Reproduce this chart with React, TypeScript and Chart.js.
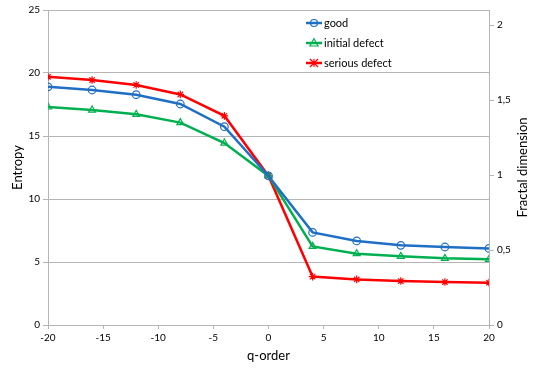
import React, { useEffect, useRef } from "react";
import { Chart, registerables } from "chart.js";

Chart.register(...registerables);

const qOrder = [-20, -16, -12, -8, -4, 0, 4, 8, 12, 16, 20];
const good = [18.9, 18.65, 18.28, 17.54, 15.74, 11.83, 7.35, 6.67, 6.32, 6.19, 6.08];
const initialDefect = [17.3, 17.06, 16.72, 16.06, 14.44, 11.83, 6.24, 5.66, 5.45, 5.29, 5.21];
const seriousDefect = [19.7, 19.44, 19.05, 18.3, 16.6, 11.83, 3.84, 3.62, 3.49, 3.41, 3.36];
const seriesNames = ["good", "initial defect", "serious defect"];
const seriesColors = ["#1f6fc5", "#00b050", "#ff0000"];
const seriesMarkers = ["circle", "triangle", "star"];
const xTitle = "q-order";
const yTitle = "Entropy";
const y2Title = "Fractal dimension";

const FONT = "Lato, 'Noto Sans', sans-serif";
const GRID = "#b5b5b5";

const W = 534;
const H = 368;

function toPoints(vals: number[]) {
  return qOrder.map((q, i) => ({ x: q, y: vals[i] }));
}

const overlayPlugin = {
  id: "overlay",
  afterDraw(chart: any) {
    const ctx = chart.ctx as CanvasRenderingContext2D;
    const area = chart.chartArea;
    ctx.save();
    ctx.fillStyle = "#000";
    ctx.textAlign = "center";
    ctx.textBaseline = "middle";
    // axis titles
    ctx.font = `13px ${FONT}`;
    ctx.fillText(xTitle, (area.left + area.right) / 2, 356);
    ctx.save();
    ctx.translate(18, (area.top + area.bottom) / 2);
    ctx.rotate(-Math.PI / 2);
    ctx.fillText(yTitle, 0, 0);
    ctx.restore();
    ctx.save();
    ctx.translate(523, (area.top + area.bottom) / 2);
    ctx.rotate(-Math.PI / 2);
    ctx.fillText(y2Title, 0, 0);
    ctx.restore();

    // legend
    ctx.font = `11px ${FONT}`;
    ctx.textAlign = "left";
    const ys = [23, 43, 63];
    seriesNames.forEach((name, i) => {
      const y = ys[i];
      const color = seriesColors[i];
      ctx.strokeStyle = color;
      ctx.lineWidth = 2.5;
      ctx.beginPath();
      ctx.moveTo(306, y);
      ctx.lineTo(322, y);
      ctx.stroke();
      ctx.lineWidth = 1.2;
      ctx.fillStyle = "rgba(0,0,0,0)";
      (Chart as any).helpers
        ? null
        : null;
      drawMarker(ctx, seriesMarkers[i], 314, y, 3.5, color);
      ctx.fillStyle = "#000";
      ctx.fillText(name, 324, y + 0.5);
    });
    ctx.restore();
  },
};

function drawMarker(ctx: CanvasRenderingContext2D, style: string, x: number, y: number, r: number, color: string) {
  ctx.save();
  ctx.strokeStyle = color;
  ctx.lineWidth = 1.2;
  ctx.beginPath();
  if (style === "circle") {
    ctx.arc(x, y, r, 0, Math.PI * 2);
  } else if (style === "triangle") {
    const rr = r + 0.8;
    ctx.moveTo(x, y - rr);
    ctx.lineTo(x + rr * 0.95, y + rr * 0.7);
    ctx.lineTo(x - rr * 0.95, y + rr * 0.7);
    ctx.closePath();
  } else {
    const rr = r + 0.5;
    ctx.moveTo(x - rr, y - rr);
    ctx.lineTo(x + rr, y + rr);
    ctx.moveTo(x - rr, y + rr);
    ctx.lineTo(x + rr, y - rr);
    ctx.moveTo(x, y - rr);
    ctx.lineTo(x, y + rr);
  }
  ctx.stroke();
  ctx.restore();
}

export default function App() {
  const ref = useRef<HTMLCanvasElement | null>(null);

  useEffect(() => {
    if (!ref.current) return;
    const datasets = [good, initialDefect, seriousDefect].map((vals, i) => ({
      label: seriesNames[i],
      data: toPoints(vals),
      borderColor: seriesColors[i],
      backgroundColor: "rgba(0,0,0,0)",
      borderWidth: 2.5,
      pointStyle: seriesMarkers[i] as any,
      pointRadius: i === 1 ? 4 : 3.8,
      pointBorderWidth: 1.2,
      pointBorderColor: seriesColors[i],
      pointBackgroundColor: "rgba(0,0,0,0)",
      tension: 0,
      yAxisID: "y",
    }));
    const chart = new Chart(ref.current, {
      type: "line",
      data: { datasets },
      options: {
        animation: false,
        responsive: false,
        devicePixelRatio: 1,
        layout: { padding: { top: 10, left: 0, right: 0, bottom: 0 } },
        plugins: { legend: { display: false }, tooltip: { enabled: false } },
        scales: {
          x: {
            type: "linear",
            min: -20,
            max: 20,
            ticks: { stepSize: 5, color: "#000", font: { family: FONT, size: 10 }, padding: 3, maxRotation: 0 },
            grid: { drawOnChartArea: false, drawTicks: true, tickLength: 4, color: GRID },
            border: { color: GRID, width: 1 },
            afterFit: (s: any) => { s.height = 43; },
          },
          y: {
            type: "linear",
            position: "left",
            min: 0,
            max: 25,
            ticks: { stepSize: 5, color: "#000", font: { family: FONT, size: 10 }, padding: 3 },
            grid: { color: GRID, tickLength: 5, lineWidth: 1 },
            border: { color: GRID, width: 1 },
            afterFit: (s: any) => { s.width = 48; },
          },
          y2: {
            type: "linear",
            position: "right",
            min: 0,
            max: 2.1,
            ticks: {
              stepSize: 0.5,
              color: "#000",
              font: { family: FONT, size: 10 },
              padding: 3,
              callback: (v: any) => String(v).replace(".", ","),
            },
            afterBuildTicks: (s: any) => { s.ticks = s.ticks.filter((t: any) => t.value <= 2.0001); },
            grid: { drawOnChartArea: false, tickLength: 5, color: GRID },
            border: { color: GRID, width: 1 },
            afterFit: (s: any) => { s.width = 45; },
          },
        },
      },
      plugins: [overlayPlugin],
    } as any);
    return () => chart.destroy();
  }, []);

  return (
    <div style={{ position: "absolute", left: 0, top: 0, width: W, height: H, background: "#fff" }}>
      <canvas ref={ref} width={W} height={H} style={{ display: "block", width: W, height: H }} />
    </div>
  );
}
